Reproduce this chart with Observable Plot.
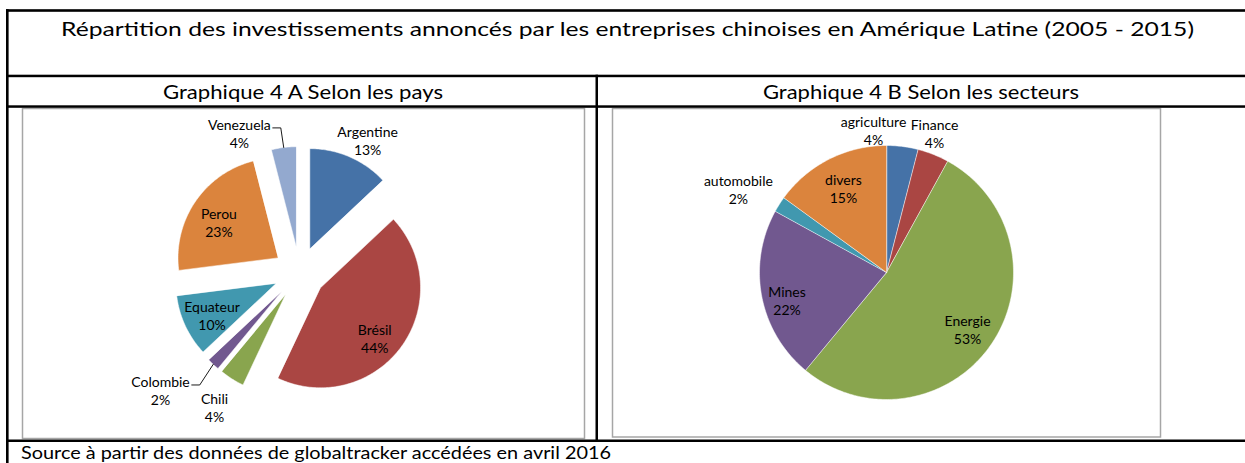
<!DOCTYPE html>
<html>
<head>
<meta charset="utf-8">
<script src="https://cdn.jsdelivr.net/npm/d3@7"></script>
<script src="https://cdn.jsdelivr.net/npm/@observablehq/plot@0.6"></script>
<style>
  body { margin: 0; background: #fff; }
  #page { position: relative; width: 1245px; height: 463px; overflow: hidden; font-family: Lato, sans-serif; background: #fff; }
  .chart { position: absolute; }
  #table { position: absolute; left: 0; top: 0; }
</style>
</head>
<body>
<div id="page">
  <div id="pieA" class="chart"></div>
  <div id="pieB" class="chart"></div>
  <svg id="table" width="1245" height="463">
    <g fill="#000">
      <rect x="6" y="9.2" width="1239" height="2.6"></rect>
      <rect x="6" y="74.7" width="1239" height="2.5"></rect>
      <rect x="6" y="105.3" width="1239" height="2.5"></rect>
      <rect x="6" y="439.5" width="1239" height="2.5"></rect>
      <rect x="6" y="9.2" width="2.6" height="454"></rect>
      <rect x="595.5" y="74.7" width="2.5" height="367"></rect>
    </g>
    <g font-family="Lato, sans-serif" font-size="19" fill="#000">
      <text id="titre" x="627.5" y="36" text-anchor="middle" textLength="1133" lengthAdjust="spacingAndGlyphs"></text>
      <text id="sousA" x="303" y="99" text-anchor="middle" textLength="280" lengthAdjust="spacingAndGlyphs"></text>
      <text id="sousB" x="921" y="99" text-anchor="middle" textLength="316" lengthAdjust="spacingAndGlyphs"></text>
      <text id="source" x="21" y="459" font-size="18" textLength="590" lengthAdjust="spacingAndGlyphs"></text>
    </g>
  </svg>
</div>
<script>
// ---- Données ----
const titre = "Répartition des investissements annoncés par les entreprises chinoises en Amérique Latine (2005 - 2015)";
const sousTitreA = "Graphique 4 A Selon les pays";
const sousTitreB = "Graphique 4 B Selon les secteurs";
const source = "Source à partir des données de globaltracker accédées en avril 2016";

const paysNoms = ["Argentine", "Brésil", "Chili", "Colombie", "Equateur", "Perou", "Venezuela"];
const paysParts = [13, 44, 4, 2, 10, 23, 4];

const secteursNoms = ["agriculture", "Finance", "Energie", "Mines", "automobile", "divers"];
const secteursParts = [4, 4, 53, 22, 2, 15];

// ---- Styles ----
const paysCouleurs = ["#4572A7", "#AA4643", "#89A54E", "#71588F", "#4198AF", "#DB843D", "#93A9CF"];
const secteursCouleurs = ["#4572A7", "#AA4643", "#89A54E", "#71588F", "#4198AF", "#DB843D"];

// ---- Mise en page ----
const layoutA = {left: 22, top: 108, right: 584, bottom: 438, cx: 299, cy: 272, r: 100, explode: 26};
const layoutB = {left: 612, top: 108, right: 1160, bottom: 436.5, cx: 886, cy: 272, r: 127, explode: 0};
// label placement: [distance from centre, angle offset in degrees from slice mid-angle]
const paysEtiq = [[148.5, 3.9], [100, 5.2], [159, -0.1], [182, 6.6], [97.4, -1], [94.8, -2.4], [152, -16.1]];
const paysLeader = [false, false, false, true, false, false, true];
const secteursEtiq = [[143, -12.4], [147.5, -2.6], [98.8, 0.7], [103.3, -4.9], [170, -3], [94.8, 0]];
const secteursLeader = [false, false, false, false, false, false];

document.getElementById("titre").textContent = titre;
document.getElementById("sousA").textContent = sousTitreA;
document.getElementById("sousB").textContent = sousTitreB;
document.getElementById("source").textContent = source;

const ctx = document.createElement("canvas").getContext("2d");
ctx.font = "14px Lato";

function pie(names, values, colors, L, etiq, leaders) {
  const total = d3.sum(values);
  let acc = 0;
  const poly = [], labs = [], leads = [];
  names.forEach((name, i) => {
    const a0 = acc / total * 2 * Math.PI;
    acc += values[i];
    const a1 = acc / total * 2 * Math.PI;
    const am = (a0 + a1) / 2;
    const ox = L.cx + L.explode * Math.sin(am), oy = L.cy - L.explode * Math.cos(am);
    poly.push({name, x: ox, y: oy});
    const n = Math.max(2, Math.ceil((a1 - a0) * 180 / Math.PI));
    for (let k = 0; k <= n; k++) {
      const a = a0 + (a1 - a0) * k / n;
      poly.push({name, x: ox + L.r * Math.sin(a), y: oy - L.r * Math.cos(a)});
    }
    const [dist, off] = etiq[i];
    const al = am + off * Math.PI / 180;
    const lx = L.cx + dist * Math.sin(al), ly = L.cy - dist * Math.cos(al);
    labs.push({name, x: lx, y: ly, text: name + "\n" + values[i] + "%"});
    if (leaders[i]) {
      const w = ctx.measureText(name).width;
      const y0 = ly - 5, x0 = lx + w / 2 + 2;
      leads.push({name, x: x0, y: y0}, {name, x: x0 + 8, y: y0},
                 {name, x: ox + L.r * Math.sin(am), y: oy - L.r * Math.cos(am)});
    }
  });
  return Plot.plot({
    width: L.right - L.left + 4,
    height: L.bottom - L.top + 4,
    margin: 2,
    x: {domain: [L.left, L.right], axis: null},
    y: {domain: [L.top, L.bottom], reverse: true, axis: null},
    color: {domain: names, range: colors},
    style: {fontFamily: "Lato, sans-serif", background: "transparent"},
    marks: [
      Plot.frame({stroke: "#a6a6a6", strokeWidth: 1.5}),
      Plot.line(poly, {x: "x", y: "y", z: "name", fill: "name", stroke: "#fff", strokeWidth: 0.5, curve: "linear-closed"}),
      Plot.line(leads, {x: "x", y: "y", z: "name", stroke: "#000", strokeWidth: 0.9}),
      Plot.text(labs, {x: "x", y: "y", text: "text", fontSize: 14, lineHeight: 1.29, textAnchor: "middle", lineAnchor: "middle", fill: "#000"})
    ]
  });
}

function place(id, L, chart) {
  const el = document.getElementById(id);
  el.style.left = (L.left - 2) + "px";
  el.style.top = (L.top - 2) + "px";
  el.appendChild(chart);
}

place("pieA", layoutA, pie(paysNoms, paysParts, paysCouleurs, layoutA, paysEtiq, paysLeader));
place("pieB", layoutB, pie(secteursNoms, secteursParts, secteursCouleurs, layoutB, secteursEtiq, secteursLeader));
</script>
</body>
</html>
